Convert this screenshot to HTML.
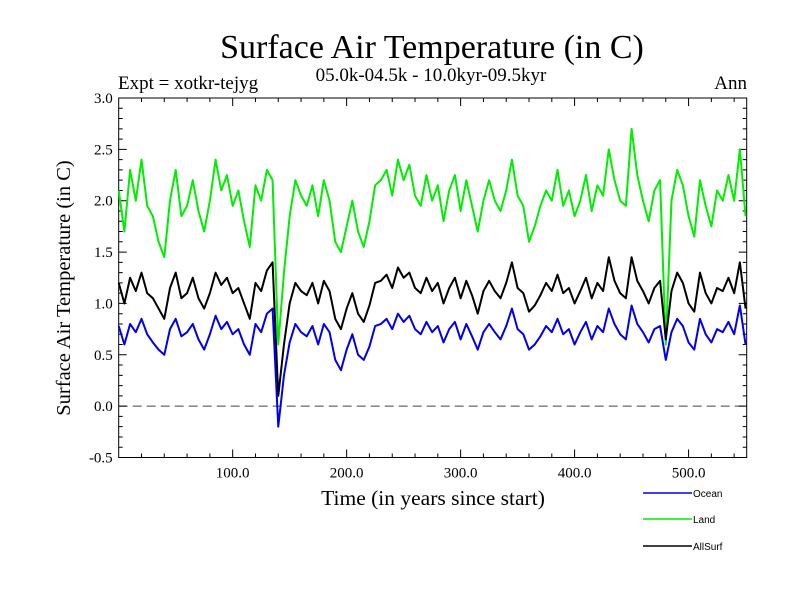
<!DOCTYPE html>
<html><head><meta charset="utf-8"><style>
body{margin:0;background:#fff}
svg{display:block}
text{font-family:"Liberation Serif",serif;fill:#000}
.leg{font-family:"Liberation Sans",sans-serif;font-size:10px}
</style></head><body>
<svg id="chart" width="800" height="600">
<text x="432" y="58" font-size="34" text-anchor="middle">Surface Air Temperature (in C)</text>
<text x="431" y="81" font-size="19" text-anchor="middle">05.0k-04.5k - 10.0kyr-09.5kyr</text>
<text x="118" y="89" font-size="19">Expt = xotkr-tejyg</text>
<text x="747" y="89" font-size="19" text-anchor="end">Ann</text>
<text transform="translate(70,288) rotate(-90)" font-size="20.5" text-anchor="middle">Surface Air Temperature (in C)</text>
<text x="433" y="505" font-size="21.5" text-anchor="middle">Time (in years since start)</text>
<g id="axes"></g>
<g id="series"></g>
<g id="legend"></g>
</svg>
<script>
const xTickLabels=["100.0","200.0","300.0","400.0","500.0"];
const xTickValues=[100,200,300,400,500];
const yTickLabels=["-0.5","0.0","0.5","1.0","1.5","2.0","2.5","3.0"];
const yTickValues=[-0.5,0,0.5,1,1.5,2,2.5,3];
const years=[];for(let i=0;i<=110;i++)years.push(i*5);
const ocean=[0.78,0.6,0.8,0.72,0.85,0.7,0.62,0.55,0.5,0.75,0.85,0.68,0.72,0.8,0.65,0.55,0.7,0.88,0.75,0.82,0.7,0.75,0.6,0.5,0.8,0.72,0.9,0.95,-0.2,0.3,0.62,0.8,0.72,0.68,0.78,0.6,0.8,0.72,0.45,0.35,0.55,0.7,0.5,0.45,0.58,0.78,0.8,0.85,0.75,0.9,0.82,0.88,0.75,0.7,0.82,0.72,0.78,0.62,0.75,0.82,0.65,0.8,0.68,0.55,0.72,0.8,0.72,0.65,0.78,0.95,0.75,0.7,0.55,0.6,0.68,0.78,0.72,0.85,0.7,0.75,0.6,0.72,0.82,0.65,0.78,0.72,0.95,0.8,0.7,0.65,0.98,0.8,0.72,0.62,0.75,0.78,0.45,0.72,0.85,0.78,0.62,0.55,0.85,0.7,0.62,0.75,0.72,0.82,0.7,0.98,0.6];
const allsurf=[1.2,1.0,1.25,1.12,1.3,1.1,1.05,0.95,0.85,1.15,1.3,1.05,1.1,1.25,1.05,0.95,1.1,1.3,1.18,1.25,1.1,1.15,1.0,0.85,1.2,1.12,1.32,1.4,0.1,0.6,1.0,1.2,1.12,1.08,1.2,1.0,1.22,1.12,0.85,0.75,0.95,1.1,0.9,0.82,0.98,1.2,1.22,1.28,1.15,1.35,1.25,1.3,1.15,1.1,1.25,1.12,1.2,1.0,1.15,1.25,1.05,1.22,1.08,0.9,1.12,1.22,1.12,1.05,1.2,1.4,1.15,1.1,0.92,0.98,1.08,1.2,1.12,1.28,1.1,1.15,1.0,1.12,1.25,1.05,1.2,1.12,1.45,1.22,1.1,1.05,1.45,1.22,1.12,1.0,1.15,1.22,0.65,1.12,1.3,1.2,1.0,0.92,1.3,1.1,1.0,1.15,1.12,1.25,1.1,1.4,0.95];
const land=[2.1,1.7,2.3,2.0,2.4,1.95,1.85,1.6,1.45,2.0,2.3,1.85,1.95,2.2,1.9,1.7,2.0,2.4,2.1,2.25,1.95,2.1,1.8,1.55,2.15,2.0,2.3,2.2,0.6,1.3,1.85,2.2,2.05,1.95,2.15,1.85,2.2,2.0,1.6,1.5,1.75,2.0,1.7,1.55,1.8,2.15,2.2,2.3,2.05,2.4,2.2,2.35,2.05,1.95,2.25,2.0,2.15,1.8,2.1,2.25,1.9,2.2,1.95,1.7,2.0,2.2,2.0,1.9,2.1,2.4,2.05,1.95,1.6,1.75,1.95,2.1,2.0,2.3,1.95,2.1,1.85,2.0,2.25,1.9,2.15,2.05,2.5,2.2,2.0,1.95,2.7,2.25,2.0,1.8,2.1,2.2,0.6,2.0,2.3,2.15,1.85,1.65,2.2,1.95,1.75,2.1,2.0,2.25,2.0,2.5,1.85];
const NS='http://www.w3.org/2000/svg';
const X0=118.7,X1=746.7,Y0=98,Y1=457.5,XMIN=0,XMAX=551,YMIN=-0.5,YMAX=3.0;
const xs=v=>X0+(v-XMIN)/(XMAX-XMIN)*(X1-X0);
const ys=v=>Y1-(v-YMIN)/(YMAX-YMIN)*(Y1-Y0);
function mk(tag,attrs,parent){const e=document.createElementNS(NS,tag);for(const k in attrs)e.setAttribute(k,attrs[k]);parent.appendChild(e);return e;}
const axes=document.getElementById('axes');
const frame=mk('rect',{x:X0,y:Y0,width:X1-X0,height:Y1-Y0,fill:'none',stroke:'#000','stroke-width':1},axes);


const zl=mk('line',{x1:X0,x2:X1,y1:ys(0),y2:ys(0),stroke:'#444','stroke-width':1,'stroke-dasharray':'9,5'},axes);


let d='';
for(let v=20;v<XMAX;v+=20){const x=xs(v),L=(v%100===0)?8:4;d+=`M${x},${Y1}v${-L}M${x},${Y0}v${L}`;}
for(let k=-5;k<=30;k++){const v=k/10,y=ys(v),L=(k%5===0)?8:4;d+=`M${X0},${y}h${L}M${X1},${y}h${-L}`;}
const ticks=mk('path',{d:d,stroke:'#000','stroke-width':1,fill:'none'},axes);


xTickValues.forEach((v,i)=>{const t=mk('text',{x:xs(v),y:Y1+20,'font-size':15,'text-anchor':'middle'},axes);t.textContent=xTickLabels[i];

});
yTickValues.forEach((v,i)=>{const t=mk('text',{x:X0-6,y:ys(v)+5,'font-size':15,'text-anchor':'end'},axes);t.textContent=yTickLabels[i];

});
const sg=document.getElementById('series');
function line(vals,color,name){const p=mk('polyline',{points:vals.map((v,i)=>xs(years[i])+','+ys(v)).join(' '),fill:'none',stroke:color,'stroke-width':2,'stroke-linejoin':'round'},sg);

}
line(land,'#00ee00','land-line');
line(allsurf,'#000000','allsurf-line');
line(ocean,'#0000ee','ocean-line');
const lg=document.getElementById('legend');
[['Ocean','#0000ee',493],['Land','#00ee00',519],['AllSurf','#000',546]].forEach(([n,c,y])=>{
const l=mk('line',{x1:643,x2:692,y1:y,y2:y,stroke:c,'stroke-width':1.5},lg);


const t=mk('text',{x:693,y:y+4,class:'leg'},lg);t.textContent=n;

});
</script>
</body></html>
